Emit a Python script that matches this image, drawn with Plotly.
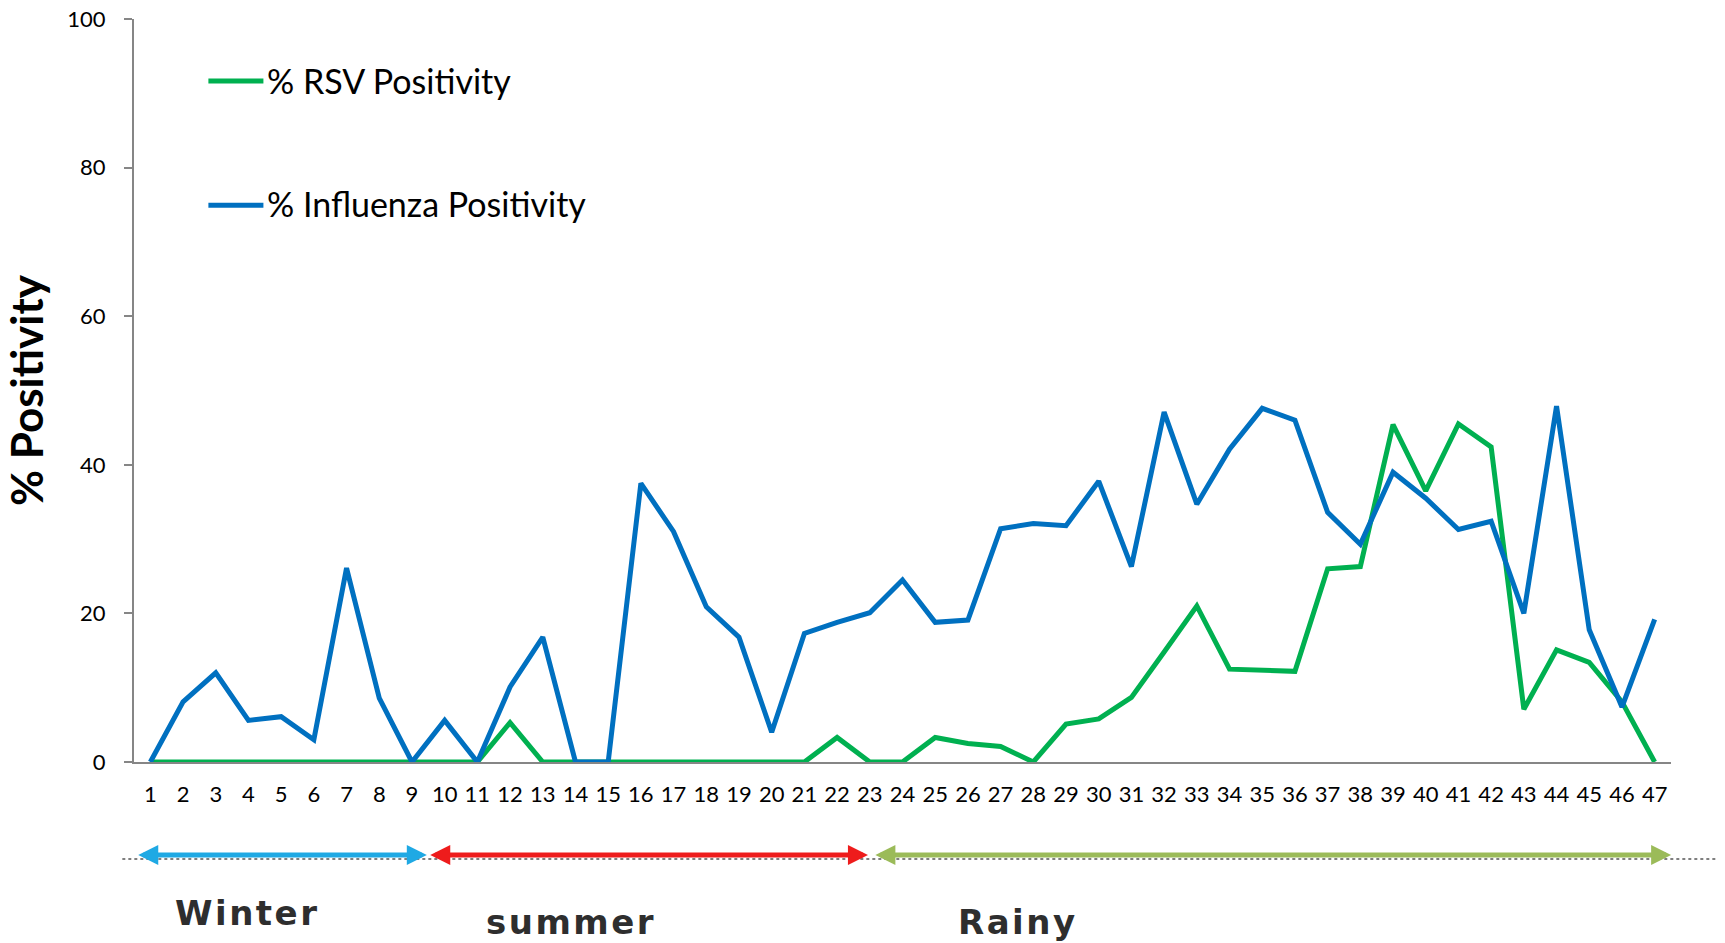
import plotly.graph_objects as go

weeks = list(range(1, 48))
week_labels = [str(w) for w in weeks]

rsv_positivity = [0, 0, 0, 0, 0, 0, 0, 0, 0, 0,
                  0, 5.3, 0, 0, 0, 0, 0, 0, 0, 0,
                  0, 3.3, 0, 0, 3.3, 2.5, 2.1, 0, 5.1, 5.8,
                  8.7, 14.8, 21.0, 12.5, 12.4, 12.2, 26.0, 26.3, 45.4, 36.5,
                  45.5, 42.4, 7.1, 15.1, 13.4, 8.1, 0]

flu_positivity = [0, 8.1, 12.0, 5.6, 6.1, 3.0, 26.1, 8.6, 0, 5.6,
                  0, 10.1, 16.8, 0, 0, 37.5, 31.0, 20.9, 16.8, 4.0,
                  17.3, 18.8, 20.1, 24.5, 18.8, 19.1, 31.4, 32.1, 31.8, 37.8,
                  26.3, 47.1, 34.7, 42.1, 47.6, 46.0, 33.6, 29.3, 39.0, 35.5,
                  31.3, 32.4, 20.0, 47.9, 17.8, 7.4, 19.2]

y_ticks = [0, 20, 40, 60, 80, 100]

series_names = ["% RSV Positivity", "% Influenza Positivity"]
series_colors = ["#00b050", "#0070c0"]

season_names = ["Winter", "summer", "Rainy"]
season_start = [0.63, 9.56, 23.17]
season_end = [9.5, 22.99, 47.55]
season_colors = ["#1fa9e4", "#ee1c1c", "#9bbb59"]
season_label_x = [3.95, 13.87, 27.53]
season_label_y = [-0.203, -0.2155, -0.2155]

fig = go.Figure()
for name, vals, col in zip(series_names, [rsv_positivity, flu_positivity], series_colors):
    fig.add_trace(go.Scatter(x=weeks, y=vals, mode="lines", name=name,
                             line=dict(color=col, width=5), showlegend=False))

# manual legend (swatch line + text)
legend_y = [0.9166, 0.7494]
legend_text_y = [0.9175, 0.7515]
for name, col, ly, ty in zip(series_names, series_colors, legend_y, legend_text_y):
    fig.add_shape(type="line", xref="paper", yref="paper",
                  x0=0.0484, x1=0.0842, y0=ly, y1=ly,
                  line=dict(color=col, width=5))
    fig.add_annotation(xref="paper", yref="paper", x=0.0853, y=ty,
                       xanchor="left", yanchor="middle", text=name,
                       showarrow=False,
                       font=dict(family="Lato", size=34, color="black"))

# dotted baseline for seasons
fig.add_shape(type="line", xref="paper", yref="paper",
              x0=-0.0076, x1=1.0295, y0=-0.1305, y1=-0.1305,
              line=dict(color="#555555", width=1.5, dash="dot"))

for nm, s, e, c, lx, ly in zip(season_names, season_start, season_end,
                               season_colors, season_label_x, season_label_y):
    fig.add_annotation(xref="x", yref="paper", axref="x", ayref="pixel",
                       x=s, ax=e, y=-0.1251, ay=0, text="",
                       showarrow=True, arrowside="end+start",
                       arrowhead=2, startarrowhead=2,
                       arrowsize=0.8, startarrowsize=0.8,
                       arrowwidth=5, arrowcolor=c)
    fig.add_annotation(xref="x", yref="paper", x=lx, y=ly,
                       text='<span style="letter-spacing:2.5px">' + nm + '</span>',
                       showarrow=False, xanchor="center", yanchor="middle",
                       font=dict(family="DejaVu Sans", size=34, color="#2e2e2e",
                                 weight="bold"))

fig.update_layout(
    width=1725, height=943,
    margin=dict(l=133.65, r=54.4, t=18.7, b=181, pad=0, autoexpand=False),
    plot_bgcolor="white", paper_bgcolor="white",
    font=dict(family="Lato", color="black"),
    hovermode=False,
)
fig.update_xaxes(range=[0.5, 47.5], tickvals=weeks, ticktext=week_labels,
                 showline=True, linecolor="#868686", linewidth=2,
                 ticks="", showgrid=False, zeroline=False,
                 tickfont=dict(family="Lato", size=22, color="black"),
                 ticklabelstandoff=12, ticklabeloverflow="allow")
fig.update_yaxes(range=[0, 100], tickvals=y_ticks,
                 showline=True, linecolor="#868686", linewidth=2,
                 ticks="outside", ticklen=8, tickwidth=2, tickcolor="#868686",
                 showgrid=False, zeroline=False,
                 tickfont=dict(family="Lato", size=22, color="black"),
                 ticklabelstandoff=14, ticklabeloverflow="allow",
                 title=dict(text="% Positivity", standoff=15,
                            font=dict(family="Lato", size=44, color="black",
                                      weight="bold")))

fig.write_html("out.html", config={"displayModeBar": False},
               post_script="document.body.style.margin='0';")
